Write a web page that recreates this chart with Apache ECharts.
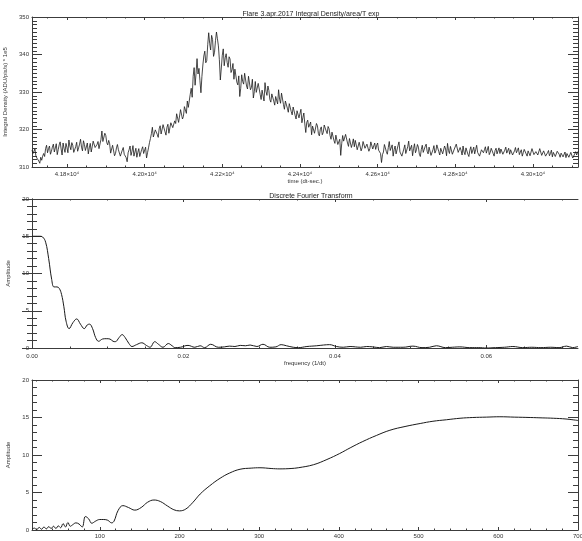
<!DOCTYPE html>
<html>
<head>
<meta charset="utf-8">
<script src="https://cdn.jsdelivr.net/npm/echarts@6/dist/echarts.min.js"></script>
<style>
  html, body { margin: 0; padding: 0; background: #fff; }
  #chart { width: 582px; height: 541px; }
</style>
</head>
<body>
<div id="chart"></div>
<script>
// ---- Light curve: integral density, sampled every 2.5 s ----
const timeStart = 41710;
const timeStep = 2.5;
const density = [
  314.5, 313.6, 314.0, 314.8, 313.0, 312.4, 312.2, 311.6, 311.0, 312.6, 311.8, 312.9, 313.6, 312.8, 314.9, 315.8,
  313.8, 314.9, 315.6, 313.4, 314.2, 315.3, 316.1, 314.0, 314.5, 316.2, 313.3, 314.6, 315.9, 316.7,
  314.8, 313.2, 316.4, 315.0, 313.9, 316.3, 315.2, 313.8, 317.2, 315.6, 314.6, 316.5, 315.8, 313.9,
  313.7, 315.4, 316.6, 314.2, 315.1, 316.1, 317.4, 315.3, 314.3, 317.0, 316.0, 314.4, 314.9, 316.4,
  313.5, 315.1, 316.3, 314.0, 315.4, 316.9, 317.0, 315.2, 314.7, 316.0, 316.8, 314.9, 315.3, 317.3,
  319.6, 316.8, 317.2, 319.0, 318.4, 316.5, 315.9, 317.1,
  316.2, 313.7, 314.1, 315.8, 315.5, 313.0, 313.6, 315.1, 316.0, 314.6, 314.4, 312.9, 312.8, 314.5,
  315.2, 313.4, 313.9, 312.5, 311.4, 313.8, 314.6, 315.6, 313.1, 314.2, 315.7, 312.9, 313.3, 315.0,
  312.6, 313.9, 314.9, 312.8, 313.2, 314.7, 315.4, 313.6, 314.0, 315.3,
  312.4, 313.8, 315.1, 316.5, 317.6, 318.9, 320.6, 318.0,
  318.2, 319.9, 320.4, 318.7, 317.9, 320.2, 321.0, 318.8, 319.1, 321.3, 320.8, 319.4, 318.5, 320.6,
  321.4, 319.0, 319.3, 321.8, 322.0, 320.5, 320.1, 322.3,
  321.6, 324.2, 323.8, 321.9, 322.4, 325.3, 324.9, 322.8, 323.5, 326.1, 325.7, 324.3,
  327.6, 325.9, 326.4, 329.4, 331.0, 328.6,
  334.2, 336.5, 331.8, 335.0, 338.9, 334.8, 336.3, 333.0,
  329.8, 334.1,
  337.2, 339.6, 340.9, 337.8, 338.4, 342.6,
  345.8, 343.0, 341.2, 345.1, 344.0, 339.5, 340.6, 343.7, 346.0, 344.2, 342.3, 338.6,
  333.2, 336.4,
  339.8, 341.5, 337.0, 339.1, 340.2, 337.9, 336.6, 339.4, 338.8, 335.2, 335.9, 337.6,
  333.4, 336.1, 335.8, 332.6, 331.9, 334.3, 328.8, 331.0, 334.6, 332.8, 332.1, 335.0, 335.2, 331.6,
  330.8, 334.2, 333.7, 330.6,
  331.2, 333.4, 328.4, 330.1, 332.8, 329.9, 329.6, 332.3, 331.9, 329.4, 328.0, 330.5, 330.7, 327.6,
  332.5, 330.2, 329.1, 331.6,
  330.4, 328.0, 327.3, 329.5, 329.8, 327.6, 326.5, 328.8, 328.9, 326.8, 330.6, 328.1, 327.0, 329.7,
  329.2, 326.7,
  325.4, 327.6, 328.1, 325.7, 324.6, 326.9, 327.3, 324.8, 323.9, 326.0, 326.5, 323.8, 322.8, 325.0,
  325.2, 323.1,
  323.6, 325.4, 321.8, 323.2, 324.4, 321.5, 319.2, 321.9, 322.5, 320.6,
  320.4, 322.0, 318.6, 320.9, 321.3, 319.0, 319.5, 321.6, 321.0, 318.9, 318.3, 320.1, 320.7, 318.6,
  319.2, 321.2, 321.5, 319.6, 318.9, 320.8, 320.2, 318.4,
  317.4, 319.3, 319.8, 317.1, 316.3, 318.5, 318.9, 316.0, 315.8, 317.4, 313.1, 316.2, 318.4, 316.9,
  316.6, 318.7, 319.2, 316.4, 315.5, 317.6, 317.8, 315.2, 316.2, 317.5,
  315.4, 317.1, 316.9, 314.6, 314.8, 316.6, 316.2, 314.3, 315.1, 316.8, 317.0, 315.0, 314.6, 316.1,
  315.9, 314.2, 314.9, 316.7, 316.5, 314.8, 315.3, 316.4, 314.7, 315.8, 316.4, 314.5, 315.0, 313.6,
  311.2, 313.3,
  314.0, 316.0, 315.6, 314.1,
  313.4, 315.2, 316.8, 314.4, 314.2, 315.9, 312.9, 314.6, 315.6, 313.5, 313.8, 315.7, 316.7, 314.0,
  314.5, 312.9, 312.6, 314.8, 315.9, 313.6, 313.7, 315.4, 316.9, 314.3, 314.1, 315.8, 313.0, 314.9,
  316.2, 313.8, 314.6, 316.0, 315.3, 313.4, 312.8, 314.7,
  315.8, 313.9, 314.0, 315.5, 316.1, 314.2, 313.5, 315.3, 314.9, 313.1, 312.7, 314.6, 315.7, 313.7,
  314.3, 315.9, 316.0, 314.1, 313.2, 315.0, 315.2, 313.5, 313.9, 315.6, 314.8, 313.0, 316.3, 314.4,
  313.6, 315.5, 315.0, 313.4, 312.9, 314.8, 314.7, 316.1, 315.9, 313.9, 313.8, 315.2,
  314.4, 313.2, 315.6, 314.0, 313.3, 315.1, 314.9, 313.4, 312.8, 314.5, 315.4, 313.6, 314.1, 315.3,
  313.5, 314.7, 315.8, 313.9, 314.2, 312.9, 313.0, 314.6, 315.1, 313.8, 314.6, 315.4, 313.7, 314.2,
  315.5, 313.3, 313.9, 315.0, 314.8, 313.6, 312.9, 314.4, 315.0, 313.5, 314.3, 315.1,
  313.6, 314.8, 314.9, 313.4, 313.2, 314.5, 315.3, 313.7, 314.0, 315.0, 313.4, 314.6, 314.7, 313.2,
  313.1, 314.3, 315.2, 313.8, 314.4, 315.1, 313.3, 314.0, 314.6, 312.9, 313.8, 314.7, 314.9, 313.5,
  312.9, 314.3, 314.2, 313.0, 313.5, 314.9, 314.8, 313.3, 313.0, 314.1, 314.5, 313.2,
  313.7, 314.9, 314.6, 313.1, 313.2, 314.3, 314.1, 312.9, 312.8, 313.8, 314.4, 313.0, 313.6, 314.5,
  312.7, 313.9, 314.0, 312.8, 313.3, 314.2, 314.5, 313.4, 312.6, 313.7, 313.8, 312.7, 313.1, 314.0,
  312.5, 313.6, 313.9, 312.6, 312.8, 313.9, 313.4, 312.4, 312.6, 313.5, 314.1, 313.2, 313.9, 314.3
];
const timeTicks = [41800, 42000, 42200, 42400, 42600, 42800, 43000];
const timeTickLabels = ['4.18×10⁴', '4.20×10⁴', '4.22×10⁴', '4.24×10⁴', '4.26×10⁴', '4.28×10⁴', '4.30×10⁴'];

// ---- Discrete Fourier transform: amplitude vs frequency ----
const dftFreq = [
  0.0000, 0.0005, 0.0010, 0.0014, 0.0018, 0.0022, 0.0026, 0.0029, 0.0033, 0.0036,
  0.0039, 0.0042, 0.0045, 0.0049, 0.0054, 0.0059, 0.0064, 0.0069, 0.0073, 0.0076,
  0.0080, 0.0084, 0.0088, 0.0093, 0.0098, 0.0103, 0.0107, 0.0110, 0.0115, 0.0119,
  0.0123, 0.0128, 0.0132, 0.0138, 0.0145, 0.0151, 0.0156, 0.0162, 0.0167, 0.0173,
  0.0180, 0.0185, 0.0189, 0.0196, 0.0206, 0.0215, 0.0222, 0.0228, 0.0236, 0.0246,
  0.0254, 0.0261, 0.0268, 0.0275, 0.0282, 0.0288, 0.0297, 0.0305, 0.0314, 0.0322,
  0.0329, 0.0336, 0.0345, 0.0352, 0.0363, 0.0376, 0.0385, 0.0393, 0.0402, 0.0411,
  0.0420, 0.0434, 0.0442, 0.0450, 0.0459, 0.0468, 0.0477, 0.0490, 0.0503, 0.0515,
  0.0525, 0.0534, 0.0546, 0.0555, 0.0565, 0.0578, 0.0590, 0.0600, 0.0612, 0.0624,
  0.0635, 0.0648, 0.0660, 0.0672, 0.0685, 0.0696, 0.0706, 0.0714, 0.0721
];
const dftAmp = [
  15.0, 15.0, 15.0, 14.9, 14.2, 12.0, 9.2, 8.2, 8.2, 8.0,
  7.2, 5.6, 3.6, 2.6, 3.4, 3.9, 3.2, 2.6, 3.1, 3.2,
  2.6, 1.4, 0.9, 1.2, 1.25, 1.2, 0.9, 0.85, 1.4, 1.8,
  1.4, 0.6, 0.2, 0.45, 0.7, 0.35, 0.1, 0.85, 0.5, 0.1,
  0.6, 0.3, 0.05, 0.1, 0.35, 0.1, 0.3, 0.05, 0.5, 0.1,
  0.15, 0.25, 0.2, 0.35, 0.3, 0.4, 0.2, 0.5, 0.1, 0.15,
  0.45, 0.3, 0.1, 0.05, 0.2, 0.3, 0.4, 0.45, 0.2, 0.1,
  0.2, 0.1, 0.2, 0.15, 0.05, 0.2, 0.1, 0.1, 0.25, 0.05,
  0.1, 0.3, 0.05, 0.1, 0.15, 0.05, 0.05, 0.0, 0.05, 0.1,
  0.2, 0.05, 0.1, 0.05, 0.1, 0.05, 0.25, 0.05, 0.2
];
const freqTicks = [0, 0.02, 0.04, 0.06];

// ---- Same spectrum against period ----
const periodVals = [
  15, 18, 21, 24, 27, 30, 33, 36, 39, 42, 45, 48, 51, 54, 57, 60, 63, 66, 70, 74,
  78, 82, 86, 90, 95, 100, 105, 110, 115, 118, 123, 129, 136, 144, 152, 160, 168, 176, 185, 193,
  200, 208, 217, 226, 238, 251, 263, 276, 290, 301, 315, 326, 340, 349, 368, 385, 401, 415, 430, 447,
  464, 483, 502, 518, 535, 552, 568, 585, 602, 620, 640, 655, 669, 685, 700
];
const periodAmp = [
  0.1, 0.25, 0.05, 0.35, 0.1, 0.4, 0.15, 0.45, 0.2, 0.5, 0.2, 0.55, 0.3, 0.85, 0.4, 1.0, 0.5, 0.7, 0.95, 0.8,
  0.4, 1.8, 1.5, 0.9, 1.2, 1.4, 1.4, 1.3, 0.95, 1.2, 2.6, 3.25, 3.0, 2.65, 3.0, 3.7, 4.0, 3.8, 3.2, 2.7,
  2.55, 2.8, 3.7, 4.8, 5.9, 6.9, 7.6, 8.1, 8.25, 8.3, 8.2, 8.15, 8.2, 8.3, 8.7, 9.4, 10.2, 11.0, 11.8, 12.6,
  13.3, 13.8, 14.2, 14.5, 14.7, 14.9, 15.0, 15.05, 15.1, 15.05, 15.0, 14.95, 14.9, 14.8, 14.6
];
const periodTicks = [100, 200, 300, 400, 500, 600, 700];

// ---- Layout / styling ----
const FONT = 'Liberation Sans';
const AXIS_COLOR = '#3c3c3c';
const TEXT_COLOR = '#333';
const LINE_COLOR = '#1a1a1a';
const panels = [
  { top: 17, height: 150 },
  { top: 199, height: 149 },
  { top: 380, height: 150 }
];
const xRanges = [[41710, 43116], [0, 0.0721], [15, 700]];

function minorsBetween(min, max, step, majors) {
  const out = [];
  const first = Math.ceil(min / step - 1e-9);
  for (let k = first; k * step <= max + 1e-12; k++) {
    const v = +(k * step).toPrecision(10);
    if (!majors.some(m => Math.abs(m - v) < step * 1e-6)) out.push(v);
  }
  return out;
}

const xAxes = [];
const yAxes = [];

function addXAxes(grid, range, majors, minors, fmt, name, labelMargin, nameGap) {
  const base = { type: 'value', gridIndex: grid, min: range[0], max: range[1], splitLine: { show: false } };
  const mainIdx = xAxes.length;
  // bottom: line, labels, major ticks
  xAxes.push(Object.assign({}, base, {
    position: 'bottom',
    axisLine: { show: true, lineStyle: { color: AXIS_COLOR, width: 1 } },
    axisTick: { show: true, inside: true, length: 3, customValues: majors, lineStyle: { color: AXIS_COLOR } },
    axisLabel: { show: true, customValues: majors, formatter: fmt, margin: labelMargin,
      color: TEXT_COLOR, fontSize: 6, fontFamily: FONT },
    name: name, nameLocation: 'middle', nameGap: nameGap,
    nameTextStyle: { color: TEXT_COLOR, fontSize: 6, fontFamily: FONT, verticalAlign: 'top' }
  }));
  // bottom minor ticks
  xAxes.push(Object.assign({}, base, {
    position: 'bottom',
    axisLine: { show: false },
    axisTick: { show: true, inside: true, length: 1.5, customValues: minors, lineStyle: { color: AXIS_COLOR } },
    axisLabel: { show: false }
  }));
  // top: line + major ticks
  xAxes.push(Object.assign({}, base, {
    position: 'top',
    axisLine: { show: true, lineStyle: { color: AXIS_COLOR, width: 1 } },
    axisTick: { show: true, inside: true, length: 3, customValues: majors, lineStyle: { color: AXIS_COLOR } },
    axisLabel: { show: false }
  }));
  // top minor ticks
  xAxes.push(Object.assign({}, base, {
    position: 'top',
    axisLine: { show: false },
    axisTick: { show: true, inside: true, length: 1.5, customValues: minors, lineStyle: { color: AXIS_COLOR } },
    axisLabel: { show: false }
  }));
  return mainIdx;
}

function addYAxes(grid, min, max, interval, minorSplit, name, nameGap) {
  const base = { type: 'value', gridIndex: grid, min: min, max: max, interval: interval, splitLine: { show: false } };
  const mainIdx = yAxes.length;
  yAxes.push(Object.assign({}, base, {
    position: 'left',
    axisLine: { show: true, lineStyle: { color: AXIS_COLOR, width: 1 } },
    axisTick: { show: true, inside: true, length: 10, lineStyle: { color: AXIS_COLOR } },
    minorTick: { show: true, splitNumber: minorSplit, length: 5, lineStyle: { color: AXIS_COLOR } },
    axisLabel: { show: true, margin: 3, color: TEXT_COLOR, fontSize: 6, fontFamily: FONT },
    name: name, nameLocation: 'middle', nameGap: nameGap, nameRotate: 90,
    nameTextStyle: { color: TEXT_COLOR, fontSize: 6, fontFamily: FONT }
  }));
  yAxes.push(Object.assign({}, base, {
    position: 'right',
    axisLine: { show: true, lineStyle: { color: AXIS_COLOR, width: 1 } },
    axisTick: { show: true, inside: true, length: 10, lineStyle: { color: AXIS_COLOR } },
    minorTick: { show: true, splitNumber: minorSplit, length: 5, lineStyle: { color: AXIS_COLOR } },
    axisLabel: { show: false }
  }));
  return mainIdx;
}

const x0 = addXAxes(0, xRanges[0], timeTicks,
  minorsBetween(xRanges[0][0], xRanges[0][1], 50, timeTicks),
  v => timeTickLabels[timeTicks.indexOf(v)] || '', 'time (dt-sec.)', 4, 10);
const x1 = addXAxes(1, xRanges[1], freqTicks,
  minorsBetween(xRanges[1][0], xRanges[1][1], 0.005, freqTicks),
  v => v.toFixed(2), 'frequency (1/dt)', 5, 12);
const x2 = addXAxes(2, xRanges[2], periodTicks,
  minorsBetween(xRanges[2][0], xRanges[2][1], 20, periodTicks),
  v => String(v), 'period (dt)', 3, 9.5);

const y0 = addYAxes(0, 310, 350, 10, 10, 'Integral Density (ADU/pix/s) * 1e5', 16);
const y1 = addYAxes(1, 0, 20, 5, 5, 'Amplitude', 13);
const y2 = addYAxes(2, 0, 20, 5, 5, 'Amplitude', 13);

const densitySeries = density.map((v, i) => [timeStart + i * timeStep, v]);
const dftSeries = dftFreq.map((f, i) => [f, dftAmp[i]]);
const periodSeries = periodVals.map((p, i) => [p, periodAmp[i]]);

const chart = echarts.init(document.getElementById('chart'), null, { renderer: 'canvas' });
chart.setOption({
  backgroundColor: '#fff',
  animation: false,
  textStyle: { fontFamily: FONT },
  title: [
    { text: 'Flare 3.apr.2017 Integral Density/area/T exp', left: 306, top: 6, textAlign: 'center',
      textStyle: { fontSize: 7, fontWeight: 'normal', color: '#222', fontFamily: FONT } },
    { text: 'Discrete Fourier Transform', left: 306, top: 188, textAlign: 'center',
      textStyle: { fontSize: 7, fontWeight: 'normal', color: '#222', fontFamily: FONT } }
  ],
  grid: panels.map(p => ({ left: 32, right: 4, top: p.top, height: p.height,
    containLabel: false, outerBoundsMode: 'none' })),
  xAxis: xAxes,
  yAxis: yAxes,
  series: [
    { type: 'line', xAxisIndex: x0, yAxisIndex: y0, data: densitySeries, showSymbol: false,
      lineStyle: { color: LINE_COLOR, width: 0.8 }, clip: true },
    { type: 'line', xAxisIndex: x1, yAxisIndex: y1, data: dftSeries, showSymbol: false, smooth: 0.4,
      lineStyle: { color: LINE_COLOR, width: 1 }, clip: true },
    { type: 'line', xAxisIndex: x2, yAxisIndex: y2, data: periodSeries, showSymbol: false, smooth: 0.4,
      lineStyle: { color: LINE_COLOR, width: 1 }, clip: true }
  ]
});
</script>
</body>
</html>
